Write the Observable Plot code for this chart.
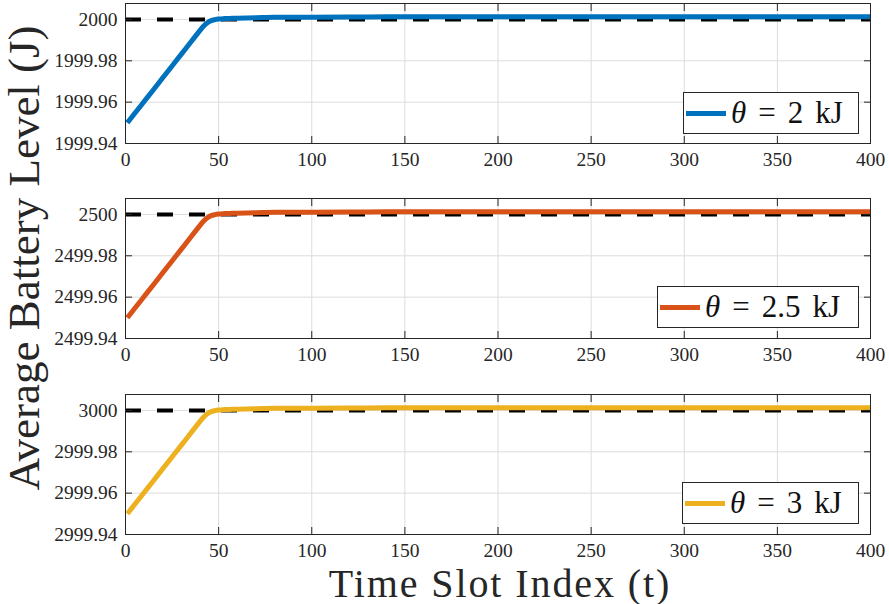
<!DOCTYPE html>
<html>
<head>
<meta charset="utf-8">
<script src="https://cdn.jsdelivr.net/npm/d3@7"></script>
<script src="https://cdn.jsdelivr.net/npm/@observablehq/plot@0.6"></script>
<style>
  html, body { margin: 0; padding: 0; background: #fff; }
  #wrap { position: relative; width: 889px; height: 604px; font-family: "Liberation Serif", "DejaVu Serif", serif; color: #262626; }
  .panel { position: absolute; left: 0; }
  #wrap svg text { font-family: "Liberation Serif", serif !important; font-size: 19.5px !important; }
  .legend { position: absolute; background: #fff; border: 1px solid #262626; display: flex; align-items: center; box-sizing: border-box; font-size: 31px; color: #111; white-space: nowrap; font-family: "Liberation Serif", serif; }
  .legend .sample { width: 40px; height: 5px; margin-left: 2px; margin-right: 5px; flex: none; }
  .legend .eq { margin: 0 12px; }
  .legend .unit { margin-left: 12px; }
  .ylab { position: absolute; left: 24px; top: 258px; transform: translate(-50%, -50%) rotate(-90deg); font-size: 45px; white-space: nowrap; line-height: 1; }
  .xlab { position: absolute; left: 500px; top: 583.5px; transform: translate(-50%, -50%); font-size: 40px; letter-spacing: 1.9px; white-space: nowrap; line-height: 0.6; }
</style>
</head>
<body>
<div id="wrap"></div>
<script>
// ---- data ----
const tSteps = [1, 5, 10, 15, 20, 25, 30, 35, 38, 40, 42, 44, 46, 48, 50, 53, 56, 60, 70, 80, 100, 130, 160, 200, 250, 300, 350, 400];
const battery2k = [1999.9500, 1999.9546, 1999.9603, 1999.9660, 1999.9718, 1999.9775, 1999.9832, 1999.9890, 1999.9924, 1999.9947, 1999.9968, 1999.9984, 1999.9994, 1999.9999, 2000.0002, 2000.0004, 2000.0005, 2000.0006, 2000.0008, 2000.0010, 2000.0011, 2000.0012, 2000.0013, 2000.0013, 2000.0013, 2000.0013, 2000.0013, 2000.0013];
const battery25k = [2499.9500, 2499.9546, 2499.9603, 2499.9660, 2499.9718, 2499.9775, 2499.9832, 2499.9890, 2499.9924, 2499.9947, 2499.9968, 2499.9984, 2499.9994, 2499.9999, 2500.0002, 2500.0004, 2500.0005, 2500.0006, 2500.0008, 2500.0010, 2500.0011, 2500.0012, 2500.0013, 2500.0013, 2500.0013, 2500.0013, 2500.0013, 2500.0013];
const battery3k = [2999.9500, 2999.9546, 2999.9603, 2999.9660, 2999.9718, 2999.9775, 2999.9832, 2999.9890, 2999.9924, 2999.9947, 2999.9968, 2999.9984, 2999.9994, 2999.9999, 3000.0002, 3000.0004, 3000.0005, 3000.0006, 3000.0008, 3000.0010, 3000.0011, 3000.0012, 3000.0013, 3000.0013, 3000.0013, 3000.0013, 3000.0013, 3000.0013];
const thresholds = [2000, 2500, 3000];
const legendLabels = ["2", "2.5", "3"];
const seriesColors = ["#0072BD", "#D95319", "#EDB120"];
const xTicks = [0, 50, 100, 150, 200, 250, 300, 350, 400];
const yTicks2k = [1999.94, 1999.96, 1999.98, 2000];
const yTicks25k = [2499.94, 2499.96, 2499.98, 2500];
const yTicks3k = [2999.94, 2999.96, 2999.98, 3000];
const yMin = [1999.94, 2499.94, 2999.94];
const yMax = [2000.0077, 2500.0077, 3000.0077];

const seriesValues = [battery2k, battery25k, battery3k];
const seriesTicks = [yTicks2k, yTicks25k, yTicks3k];

const wrap = document.getElementById("wrap");
const panelTops = [0, 195, 391];
const legendTops = [92, 286, 482];
const legendWidths = [176, 202, 177];
const ink = "#262626";
const gridColor = "#dcdcdc";
const serif = "Liberation Serif";
const fmtY = d => d3.format(".2f")(d).replace(/\.00$/, "");

seriesValues.forEach((vals, i) => {
  const data = tSteps.map((t, j) => ({t, v: vals[j]}));
  const yt = seriesTicks[i];
  const chart = Plot.plot({
    width: 889,
    height: 195,
    marginLeft: 125,
    marginRight: 19,
    marginTop: 3,
    marginBottom: 52,
    style: `font-family: '${serif}', serif; font-size: 19.5px; color: ${ink}; background: transparent;`,
    x: {domain: [0, 400], axis: null},
    y: {domain: [yMin[i], yMax[i]], axis: null},
    marks: [
      Plot.gridX(xTicks, {stroke: gridColor, strokeOpacity: 1}),
      Plot.gridY(yt, {stroke: gridColor, strokeOpacity: 1}),
      Plot.ruleY([thresholds[i]], {stroke: "#000", strokeWidth: 4, strokeDasharray: "16,16"}),
      Plot.line(data, {x: "t", y: "v", stroke: seriesColors[i], strokeWidth: 5, curve: "monotone-x", strokeLinecap: "butt"}),
      Plot.frame({stroke: ink, strokeWidth: 1}),
      Plot.axisX(xTicks, {anchor: "bottom", tickSize: 0, tickPadding: 9, fill: ink, label: null, tickFormat: d => d, fontFamily: serif}),
      Plot.axisX(xTicks, {anchor: "bottom", tickSize: -7, text: null, stroke: ink, label: null}),
      Plot.axisX(xTicks, {anchor: "top", tickSize: -7, text: null, stroke: ink, label: null}),
      Plot.axisY(yt, {anchor: "left", tickSize: 0, tickPadding: 8, fill: ink, label: null, tickFormat: fmtY, fontFamily: serif}),
      Plot.axisY(yt, {anchor: "left", tickSize: -7, text: null, stroke: ink, label: null}),
      Plot.axisY(yt, {anchor: "right", tickSize: -7, text: null, stroke: ink, label: null})
    ]
  });
  chart.classList.add("panel");
  chart.style.top = panelTops[i] + "px";
  wrap.appendChild(chart);

  const lg = document.createElement("div");
  lg.className = "legend";
  lg.style.top = legendTops[i] + "px";
  lg.style.right = "30px";
  lg.style.width = legendWidths[i] + "px";
  lg.style.height = "42px";
  lg.innerHTML = `<div class="sample" style="background:${seriesColors[i]}"></div><i>θ</i><span class="eq">=</span><span>${legendLabels[i]}</span><span class="unit">kJ</span>`;
  wrap.appendChild(lg);
});

const yl = document.createElement("div");
yl.className = "ylab";
yl.textContent = "Average Battery Level (J)";
wrap.appendChild(yl);

const xl = document.createElement("div");
xl.className = "xlab";
xl.textContent = "Time Slot Index (t)";
wrap.appendChild(xl);
</script>
</body>
</html>
